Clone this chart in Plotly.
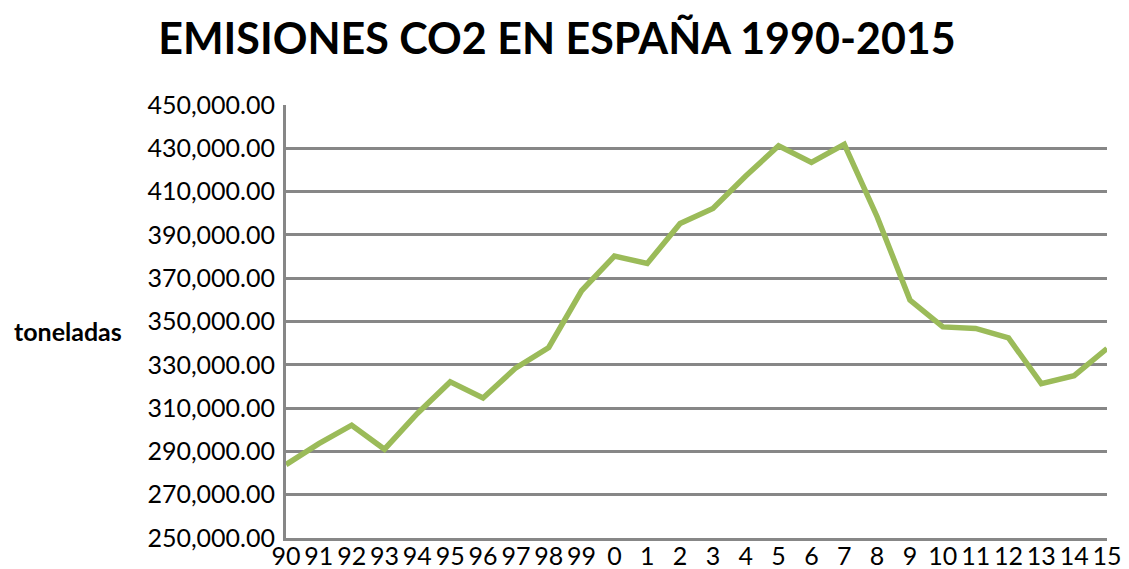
import plotly.graph_objects as go

# Años (etiquetas del eje x tal como aparecen en el gráfico)
years = ["90", "91", "92", "93", "94", "95", "96", "97", "98", "99",
         "0", "1", "2", "3", "4", "5", "6", "7", "8", "9",
         "10", "11", "12", "13", "14", "15"]

# Emisiones de CO2 (toneladas)
emissions = [283900, 293600, 302100, 291000, 307500, 322100, 314700, 328600,
             338000, 364200, 380200, 376800, 395300, 402200, 417200, 431200,
             423500, 431800, 398400, 359900, 347500, 346800, 342400, 321300,
             325000, 337500]

grid_color = "#878787"
tick_font = dict(family="Lato, 'Open Sans', sans-serif", size=25, color="#000000")

# the page has an 8px body margin, so the figure is 8px smaller each way
W, H = 1121, 561


def main():
    fig = go.Figure()
    fig.add_trace(go.Scatter(
        x=years,
        y=emissions,
        mode="lines",
        line=dict(color="#9BBB59", width=5.5),
        showlegend=False,
    ))

    left, right, top, bottom = 278, 22, 97, 31
    fig.update_layout(
        template="none",
        width=W,
        height=H,
        paper_bgcolor="white",
        plot_bgcolor="white",
        margin=dict(l=left, r=right, t=top, b=bottom),
        title=dict(
            text="<b>EMISIONES CO2 EN ESPAÑA 1990-2015</b>",
            font=dict(family="Lato, sans-serif", size=43, color="#000000"),
            x=549 / W,
            xanchor="center",
            y=1 - 31 / H,
            yanchor="middle",
        ),
        xaxis=dict(
            type="category",
            range=[0, len(years) - 1],
            showgrid=False,
            showline=True,
            linecolor=grid_color,
            linewidth=3,
            ticks="",
            ticklabelstandoff=-6,
            tickfont=tick_font,
            automargin=False,
        ),
        yaxis=dict(
            range=[250000, 450000],
            dtick=20000,
            tick0=250000,
            tickformat=",.2f",
            showgrid=True,
            gridcolor=grid_color,
            gridwidth=3,
            showline=True,
            linecolor=grid_color,
            linewidth=3,
            zeroline=False,
            ticks="",
            ticklabelstandoff=3,
            tickfont=tick_font,
            automargin=False,
        ),
        annotations=[dict(
            text="<b>toneladas</b>",
            xref="paper", yref="paper",
            x=(4 - left) / (W - left - right),
            y=(538 - 331) / 433,
            xanchor="left",
            yanchor="middle",
            showarrow=False,
            font=dict(family="Lato, sans-serif", size=25, color="#000000"),
        )],
    )

    fig.write_html("out.html")


if __name__ == "__main__":
    main()
